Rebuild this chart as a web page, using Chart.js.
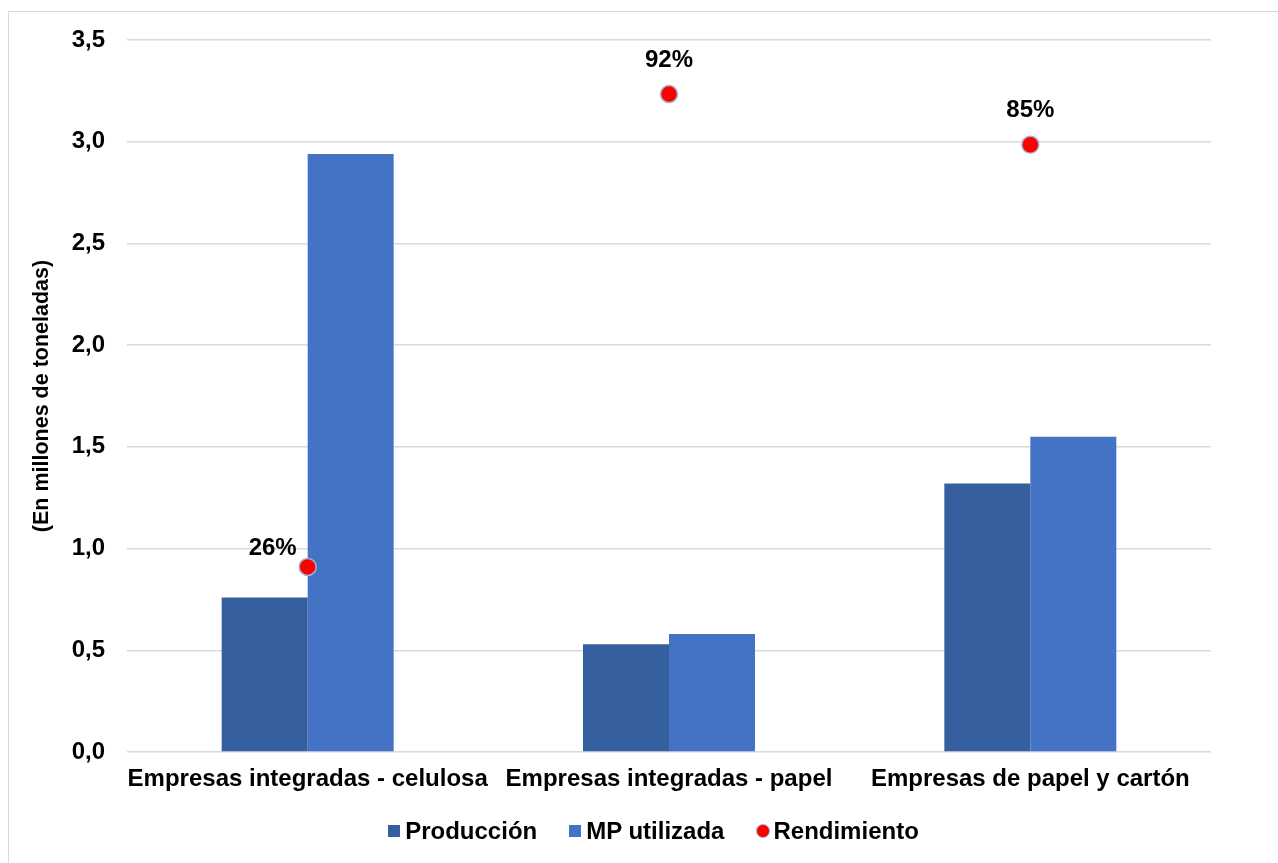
<!DOCTYPE html>
<html>
<head>
<meta charset="utf-8">
<script src="https://cdn.jsdelivr.net/npm/chart.js@4.4.1/dist/chart.umd.min.js"></script>
<style>
    body { margin: 0; background: #fff; font-family: "Liberation Sans", Arial, sans-serif; }
    #frame { position: absolute; left: 8px; top: 11px; width: 1290px; height: 870px; border-left: 1px solid #d9d9d9; border-top: 1px solid #d9d9d9; }
    #myChart { position: absolute; left: 0; top: 0; }
    #legend { position: absolute; left: 0; top: 817px; width: 1278px; padding-left: 29px; box-sizing: border-box;
        display: flex; justify-content: center; gap: 32px; font-weight: bold; font-size: 24px; line-height: 28px; color: #000; }
    #legend span.item { display: flex; align-items: center; }
    #legend span.box { display: inline-block; width: 12px; height: 12px; margin-right: 5px; }
    #legend span.dot { display: inline-block; width: 14px; height: 14px; border-radius: 50%; margin-right: 3px; box-sizing: border-box; }
</style>
</head>
<body>
<div id="frame"></div>
<canvas id="myChart" width="1278" height="863"></canvas>
<div id="legend"></div>
<script>
const categories = ['Empresas integradas - celulosa', 'Empresas integradas - papel', 'Empresas de papel y cartón'];
const produccion = [0.76, 0.53, 1.32];
const mpUtilizada = [2.94, 0.58, 1.55];
const rendimiento = [0.26, 0.924, 0.853];
const yTicks = [0, 0.5, 1, 1.5, 2, 2.5, 3, 3.5];

const font = { family: '"Liberation Sans", Arial, sans-serif', size: 24, weight: 'bold' };

// offsets of the % labels from their point
const labelOffsets = [[-35, -19], [0, -34], [0, -34]];

const pctLabels = {
    id: 'pctLabels',
    afterDatasetsDraw(chart) {
        const c = chart.ctx;
        const meta = chart.getDatasetMeta(2);
        c.save();
        c.font = 'bold 24px "Liberation Sans", Arial, sans-serif';
        c.fillStyle = '#000';
        c.textAlign = 'center';
        c.textBaseline = 'middle';
        meta.data.forEach((pt, i) => {
            const off = labelOffsets[i];
            c.fillText(Math.round(rendimiento[i] * 100) + '%', pt.x + off[0], pt.y + off[1]);
        });
        c.restore();
    }
};

const ctx = document.getElementById('myChart').getContext('2d');

const chart = new Chart(ctx, {
    type: 'bar',
    data: {
        labels: categories,
        datasets: [
            {
                label: 'Producción',
                data: produccion,
                backgroundColor: '#365f9f',
                order: 1,
                yAxisID: 'y'
            },
            {
                label: 'MP utilizada',
                data: mpUtilizada,
                backgroundColor: '#4472c4',
                order: 1,
                yAxisID: 'y'
            },
            {
                type: 'line',
                label: 'Rendimiento',
                data: rendimiento,
                showLine: false,
                pointRadius: 8.5,
                pointBackgroundColor: '#ff0000',
                pointBorderColor: '#a3b2da',
                pointBorderWidth: 1.5,
                order: 0,
                yAxisID: 'y2'
            }
        ]
    },
    options: {
        responsive: false,
        animation: false,
        categoryPercentage: 0.476,
        barPercentage: 1,
        layout: {
            padding: { left: 0, right: 67, top: 40, bottom: 51 }
        },
        scales: {
            x: {
                grid: { display: false, drawTicks: false },
                border: { display: false },
                ticks: { color: '#000', font: font, padding: 13, maxRotation: 0, autoSkip: false },
                afterFit: (s) => { s.height = 60; }
            },
            y: {
                min: 0,
                max: 3.5,
                afterBuildTicks: (s) => { s.ticks = yTicks.map(v => ({ value: v })); },
                grid: { color: '#d9d9d9', lineWidth: 1.5, drawTicks: false },
                border: { display: false },
                ticks: {
                    color: '#000',
                    font: font,
                    padding: 22,
                    callback: (v) => v.toFixed(1).replace('.', ',')
                },
                title: {
                    display: true,
                    text: '(En millones de toneladas)',
                    color: '#000',
                    font: { family: font.family, size: 21.5, weight: 'bold' },
                    padding: { top: 29, bottom: 0 }
                },
                afterFit: (s) => { s.width = 127; }
            },
            y2: {
                display: false,
                min: 0,
                max: 1
            }
        },
        plugins: {
            legend: { display: false },
            tooltip: { enabled: false }
        }
    },
    plugins: [pctLabels]
});

// html legend
document.getElementById('legend').innerHTML = chart.data.datasets.map(d => {
    const mark = d.type === 'line'
        ? `<span class="dot" style="background:${d.pointBackgroundColor};border:1.5px solid ${d.pointBorderColor}"></span>`
        : `<span class="box" style="background:${d.backgroundColor}"></span>`;
    return `<span class="item">${mark}${d.label}</span>`;
}).join('');
</script>
</body>
</html>
